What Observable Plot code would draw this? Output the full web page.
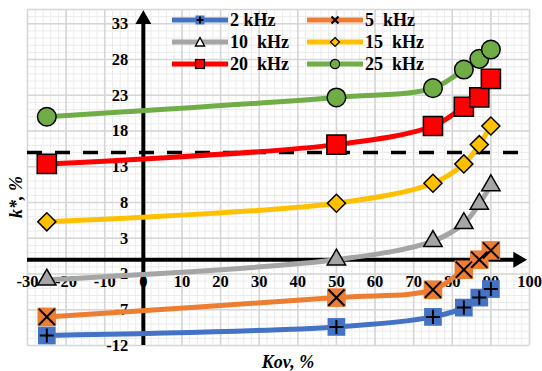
<!DOCTYPE html>
<html>
<head>
<meta charset="utf-8">
<script src="https://cdn.jsdelivr.net/npm/d3@7"></script>
<script src="https://cdn.jsdelivr.net/npm/@observablehq/plot@0.6"></script>
<style>
  body { margin: 0; background: #fff; }
  #chart { position: relative; width: 542px; height: 371px; font-family: "Liberation Serif", "Times New Roman", serif; }
  #chart svg { display: block; }
  .legend-item { position: absolute; display: flex; align-items: center; height: 20px; font-weight: bold; font-size: 18px; color: #000; white-space: pre; }
  .legend-item svg { margin-right: 2px; }
  .ytitle { position: absolute; left: 16px; top: 197px; transform: translate(-50%, -50%) rotate(-90deg); font: italic bold 18px "Liberation Serif", serif; white-space: nowrap; }
  .xtitle { position: absolute; left: 288px; top: 362px; transform: translate(-50%, -50%); font: italic bold 18px "Liberation Serif", serif; white-space: nowrap; }
</style>
</head>
<body>
<div id="chart"></div>
<script>
// Overlap coefficient Kov (%) at which k* was measured
const kov = [-25, 50, 75, 83, 87, 90];

// k* (%) for each frequency
const k2  = [-10.6, -9.4, -8.0, -6.7, -5.3, -4.1];
const k5  = [-8.0, -5.3, -4.2, -1.4, 0.0, 1.3];
const k10 = [-2.8, 0.0, 2.6, 5.1, 7.8, 10.4];
const k15 = [5.3, 7.9, 10.7, 13.4, 16.1, 18.7];
const k20 = [13.4, 16.1, 18.7, 21.4, 22.7, 25.3];
const k25 = [20.0, 22.7, 24.0, 26.6, 28.1, 29.4];

const seriesNames = ["2 kHz", "5  kHz", "10  kHz", "15  kHz", "20  kHz", "25  kHz"];
const seriesColors = ["#4472C4", "#ED7D31", "#A5A5A5", "#FFC000", "#FF0000", "#70AD47"];

// Axis ticks and the reference level
const xTicks = d3.range(-30, 101, 10);
const yTicks = d3.range(-12, 34, 5);
const threshold = 15;

const seriesValues = [k2, k5, k10, k15, k20, k25];
const series = seriesNames.map((name, i) => ({
  name,
  color: seriesColors[i],
  data: kov.map((x, j) => ({ x, y: seriesValues[i][j] }))
}));

// Marker drawing per series
function markerMarks(s, i) {
  const d = s.data;
  const base = { x: "x", y: "y" };
  switch (i) {
    case 0: return [
      Plot.dot(d, { ...base, symbol: "square", r: 10, fill: s.color }),
      Plot.dot(d, { ...base, symbol: "plus", r: 4.6, stroke: "black", strokeWidth: 2 })
    ];
    case 1: return [
      Plot.dot(d, { ...base, symbol: "square", r: 10.5, fill: s.color }),
      Plot.dot(d, { ...base, symbol: "times", r: 7.4, stroke: "black", strokeWidth: 2 })
    ];
    case 2: return [
      Plot.dot(d, { ...base, symbol: "triangle", r: 6.8, fill: s.color, stroke: "black", strokeWidth: 1.5 })
    ];
    case 3: return [
      Plot.dot(d, { ...base, symbol: "square", r: 7.2, rotate: 45, fill: s.color, stroke: "black", strokeWidth: 1.5 })
    ];
    case 4: return [
      Plot.dot(d, { ...base, symbol: "square", r: 10.8, fill: s.color, stroke: "black", strokeWidth: 1.5 })
    ];
    default: return [
      Plot.dot(d, { ...base, symbol: "circle", r: 9.3, fill: s.color, stroke: "black", strokeWidth: 1.5 })
    ];
  }
}

const fontStyle = { fontFamily: "'Liberation Serif', 'Times New Roman', serif", fontWeight: "bold", fontSize: 16.5, fill: "black" };

const chart = Plot.plot({
  width: 542,
  height: 371,
  marginLeft: 27,
  marginRight: 13,
  marginTop: 9,
  marginBottom: 26,
  x: { domain: [-30, 100], axis: null },
  y: { domain: [-12, 35], axis: null },
  style: { background: "white", fontFamily: "'Liberation Serif', serif" },
  marks: [
    // minor and major grid
    Plot.ruleX(d3.range(-30, 101, 2), { stroke: "#ebebeb", strokeWidth: 1 }),
    Plot.ruleY(d3.range(-12, 36, 1), { stroke: "#ebebeb", strokeWidth: 1 }),
    Plot.ruleX(xTicks, { stroke: "#d6d6d6", strokeWidth: 1.6 }),
    Plot.ruleY(yTicks, { stroke: "#d6d6d6", strokeWidth: 1.6 }),
    Plot.ruleY([35], { stroke: "#d6d6d6", strokeWidth: 1.6 }),

    // axes crossing at the origin, with arrowheads
    Plot.ruleY([0], { x1: -30, x2: 97, stroke: "black", strokeWidth: 4 }),
    Plot.ruleX([0], { y1: -12, y2: 33.6, stroke: "black", strokeWidth: 4 }),
    Plot.dot([0], { x: () => 0, y: () => 33.6, symbol: "triangle", r: 5.9, fill: "black" }),
    Plot.dot([0], { x: () => 97, y: () => 0, symbol: "triangle", r: 5.9, rotate: 90, fill: "black" }),

    // tick labels beside the axes
    Plot.text(yTicks, { x: () => 0, y: d => d, text: d => String(d), textAnchor: "end", dx: -15, ...fontStyle }),
    Plot.text(xTicks, { x: d => d, y: () => 0, text: d => String(d), dy: 22, ...fontStyle }),

    // reference level
    Plot.ruleY([threshold], { x1: -30, x2: 98, stroke: "black", strokeWidth: 3.5, strokeDasharray: "15,13" }),

    // series
    ...series.flatMap((s, i) => [
      Plot.line(s.data, { x: "x", y: "y", stroke: s.color, strokeWidth: 5, curve: "catmull-rom" }),
      ...markerMarks(s, i)
    ])
  ]
});

const root = document.getElementById("chart");
root.appendChild(chart);

// legend, two columns by three rows
const legendPos = [
  [172, 20], [307, 20],
  [172, 42], [307, 42],
  [172, 64], [307, 64]
];
const legendGlyph = [
  c => `<rect x="23.5" y="1.5" width="9" height="9" fill="${c}"/><path d="M28 2.5v7M24.5 6h7" stroke="#000" stroke-width="2"/>`,
  c => `<path d="M24.5 2.5l7 7M31.5 2.5l-7 7" stroke="#000" stroke-width="2"/>`,
  c => `<path d="M28 1.5L32.5 10H23.5Z" fill="#fff" stroke="#000" stroke-width="1.4"/>`,
  c => `<path d="M28 1.5L32.5 6L28 10.5L23.5 6Z" fill="${c}" stroke="#000" stroke-width="1.2"/>`,
  c => `<rect x="23.5" y="1.5" width="9" height="9" fill="${c}" stroke="#000" stroke-width="1.2"/>`,
  c => `<circle cx="28" cy="6" r="4.6" fill="${c}" stroke="#000" stroke-width="1.2"/>`
];
series.forEach((s, i) => {
  const [lx, ly] = legendPos[i];
  const item = document.createElement("div");
  item.className = "legend-item";
  item.style.left = lx + "px";
  item.style.top = (ly - 10) + "px";
  item.innerHTML =
    `<svg width="56" height="12" viewBox="0 0 56 12"><line x1="0" y1="6" x2="56" y2="6" stroke="${s.color}" stroke-width="5" stroke-linecap="round"/>${legendGlyph[i](s.color)}</svg>` +
    `<span>${s.name}</span>`;
  root.appendChild(item);
});

// axis titles
const yTitle = document.createElement("div");
yTitle.className = "ytitle";
yTitle.textContent = "k*, %";
root.appendChild(yTitle);
const xTitle = document.createElement("div");
xTitle.className = "xtitle";
xTitle.textContent = "Kov, %";
root.appendChild(xTitle);
</script>
</body>
</html>
